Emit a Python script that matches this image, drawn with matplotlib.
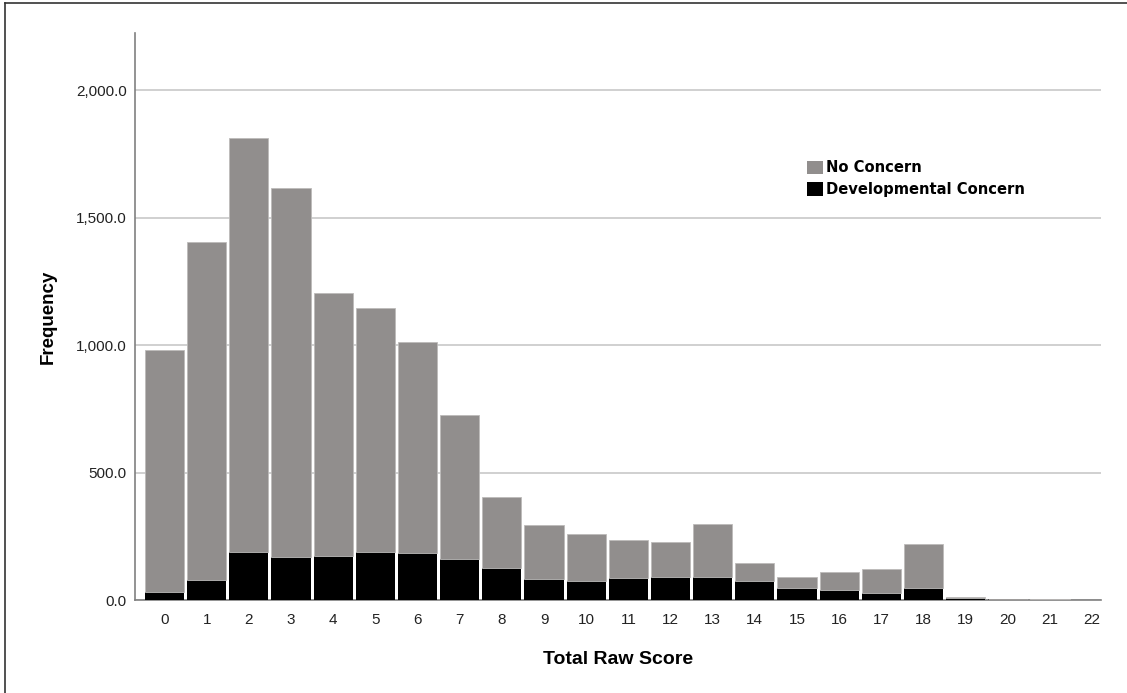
import matplotlib
matplotlib.use("Agg")
import matplotlib.pyplot as plt
from matplotlib.patches import Patch
from matplotlib.lines import Line2D
from matplotlib.ticker import FuncFormatter

scores = list(range(23))
tick_labels = [str(s) for s in scores]
# total frequency per score (top of stacked bar)
total = [980, 1405, 1813, 1617, 1204, 1146, 1013, 725, 403, 294, 258, 234, 227,
         299, 145, 91, 111, 120, 220, 10, 5, 2, 1]
# developmental concern (black, bottom)
concern = [30, 78, 187, 167, 174, 187, 186, 161, 126, 82, 75, 86, 89,
           90, 73, 48, 38, 29, 46, 9, 4, 1, 1]
no_concern = [t - c for t, c in zip(total, concern)]
series_names = ["No Concern", "Developmental Concern"]

GRAY = "#918e8d"
W, H = 1127, 693
fig = plt.figure(figsize=(W / 100, H / 100), dpi=100)
ax = fig.add_axes([135 / W, 1 - 600 / H, (1101 - 135) / W, (600 - 33) / H])

ax.bar(scores, concern, width=0.93, color="black", zorder=3, linewidth=0)
ax.bar(scores, no_concern, bottom=concern, width=0.93, color=GRAY, zorder=3,
       edgecolor="#bdbbba", linewidth=0.6)

ax.set_xlim(-0.70, 22.21)
ax.set_ylim(0, 2225)
ax.set_yticks([0, 500, 1000, 1500, 2000])
ax.yaxis.set_major_formatter(FuncFormatter(lambda v, p: f"{v:,.1f}"))
ax.set_xticks(scores)
ax.set_xticklabels(tick_labels)
ax.tick_params(axis="both", length=0, labelsize=11, colors="#222222")
ax.tick_params(axis="x", pad=9)
ax.tick_params(axis="y", pad=6)
for lab in ax.get_xticklabels() + ax.get_yticklabels():
    lab.set_family("Liberation Sans")

ax.grid(axis="y", color="#c8c8c8", linewidth=1.2, zorder=0)
ax.set_axisbelow(True)
for s in ["top", "right"]:
    ax.spines[s].set_visible(False)
for s in ["left", "bottom"]:
    ax.spines[s].set_color("#808080")
    ax.spines[s].set_linewidth(1.2)

ax.set_xlabel("Total Raw Score", fontsize=14, fontweight="bold",
              family="Liberation Sans", labelpad=18)
ax.set_ylabel("Frequency", fontsize=13.5, fontweight="bold",
              family="Liberation Sans", labelpad=14)

handles = [Patch(facecolor=GRAY, edgecolor="none"),
           Patch(facecolor="black", edgecolor="none")]
leg = ax.legend(handles, series_names, loc="upper left",
                bbox_to_anchor=((800 - 135) / (1101 - 135), (600 - 153) / (600 - 33)),
                frameon=False, handlelength=1.05, handleheight=1.05,
                handletextpad=0.2, labelspacing=0.45, borderpad=0,
                prop={"family": "DejaVu Sans", "weight": "bold", "size": 10.6})

# outer frame (top and left visible)
fig.add_artist(Line2D([5 / W, 5 / W], [0, 1 - 3 / H], transform=fig.transFigure,
                      color="#333333", linewidth=1.2))
fig.add_artist(Line2D([5 / W, 1], [1 - 3 / H, 1 - 3 / H], transform=fig.transFigure,
                      color="#333333", linewidth=1.2))

fig.savefig("out.png", dpi=100)
